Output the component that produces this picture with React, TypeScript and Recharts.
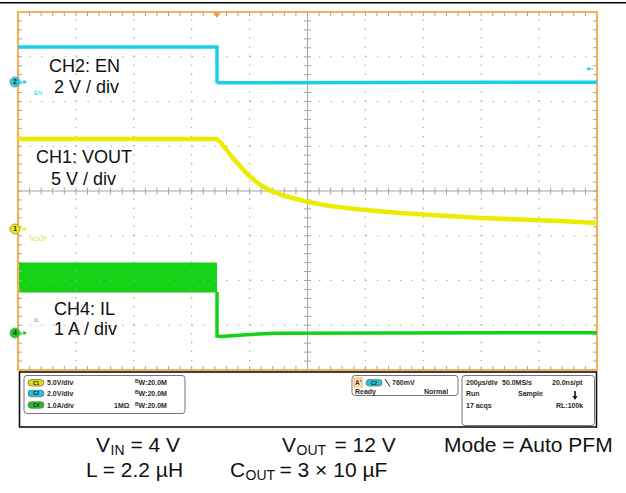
import React from 'react';
import { ComposedChart, Line, Area, XAxis, YAxis, ReferenceLine, ReferenceArea, ReferenceDot } from 'recharts';

// Horizontal axis: time in divisions (200 µs/div), 0..10
// Vertical axis: screen divisions, 0 (bottom) .. 8 (top)

const enTime = [0, 3.437, 3.437, 3.47, 10];
const enLevel = [7.22, 7.22, 6.44, 6.42, 6.43];

const voutTime = [0, 3.437, 3.506, 3.592, 3.696, 3.817, 3.955, 4.162, 4.37, 4.611, 5.009, 5.389, 5.907, 6.598, 7.288, 7.979, 8.67, 9.361, 10];
const voutLevel = [5.16, 5.162, 5.073, 4.939, 4.76, 4.581, 4.38, 4.156, 4.0, 3.888, 3.754, 3.665, 3.587, 3.508, 3.453, 3.397, 3.363, 3.33, 3.285];

const ilBandTime = [0, 3.437];
const ilBandLow = [1.743, 1.743];
const ilBandHigh = [2.391, 2.391];

const ilTime = [3.437, 3.437, 3.5, 3.95, 4.4, 10];
const ilLevel = [1.743, 0.76, 0.75, 0.79, 0.82, 0.834];

// channel ground reference markers (divisions)
const markerLevels = [6.436, 3.151, 0.827];
const markerNumbers = ['2', '1', '4'];
const triggerTime = 3.437;
const triggerLevel = 6.73;

const gridX = [1, 2, 3, 4, 6, 7, 8, 9];
const gridY = [1, 2, 3, 5, 6, 7];
const minorX = Array.from({ length: 49 }, (_, i) => +((i + 1) * 0.2).toFixed(2));
const minorY = Array.from({ length: 39 }, (_, i) => +((i + 1) * 0.2).toFixed(2));

const W = 626;
const H = 493;
const M = { top: 12, right: 29, bottom: 123, left: 18 };
const PX_X = (W - M.left - M.right) / 10;
const PX_Y = (H - M.top - M.bottom) / 8;
const TX = 4 / PX_X;
const TY = 4 / PX_Y;
const CTX = 3.5 / PX_X;
const CTY = 3.5 / PX_Y;

const CYAN = '#1ccfe6';
const YELLOW = '#ecec00';
const GREEN = '#16d216';
const ORANGE = '#f4b35a';
const GRID = '#a4a4a4';
const CENTER = '#aaa59c';
const FONT = "'Liberation Sans', Arial, sans-serif";

const enData = enTime.map((t, i) => ({ t, v: enLevel[i] }));
const voutData = voutTime.map((t, i) => ({ t, v: voutLevel[i] }));
const ilBandData = ilBandTime.map((t, i) => ({ t, band: [ilBandLow[i], ilBandHigh[i]] }));
const ilData = ilTime.map((t, i) => ({ t, v: ilLevel[i] }));
const markerColors = [CYAN, YELLOW, GREEN];

const makeMarker = (color: string, num: string) => (props: any) => {
  const { cx, cy } = props;
  return (
    <g>
      <circle cx={cx - 3} cy={cy} r={5} fill={color} stroke="#8a8a8a" strokeWidth={0.8} />
      <text x={cx - 3} y={cy + 2.3} fontSize={6.5} fontWeight="bold" textAnchor="middle" fill="#222" fontFamily={FONT}>{num}</text>
      <line x1={cx + 2} y1={cy} x2={cx + 6} y2={cy} stroke={color} strokeWidth={1} />
      <path d={`M${cx + 9},${cy} l-3.5,-2.2 v4.4 z`} fill={color} />
    </g>
  );
};

const TriggerShape = (props: any) => {
  const { cx, cy } = props;
  return <path d={`M${cx - 3.5},${cy + 1} L${cx + 3.5},${cy + 1} L${cx},${cy + 6} z`} fill="#f0a030" />;
};

const LevelArrow = (props: any) => {
  const { cx, cy } = props;
  return (
    <g>
      <path d={`M${cx - 11},${cy} l3.5,-2.2 v4.4 z`} fill={CYAN} />
      <line x1={cx - 8} y1={cy} x2={cx - 4} y2={cy} stroke={CYAN} strokeWidth={1} />
    </g>
  );
};

const Pill = ({ x, y, color, label }: { x: number; y: number; color: string; label: string }) => (
  <g>
    <rect x={x} y={y - 3.3} width={16} height={6.6} rx={3.3} fill={color} stroke="#555" strokeWidth={0.6} />
    <text x={x + 8} y={y + 1.8} fontSize={4.8} fontWeight="bold" textAnchor="middle" fill="#222" fontFamily={FONT}>{label}</text>
  </g>
);

const small = { fontSize: 7, fontWeight: 'bold' as const, fill: '#2a2a2a', fontFamily: FONT };

const Bw = ({ x, y }: { x: number; y: number }) => (
  <g>
    <text x={x} y={y - 2} {...small} fontSize={5}>B</text>
    <text x={x + 3.6} y={y} {...small}>W:20.0M</text>
  </g>
);

export default function App() {
  return (
    <div style={{ position: 'absolute', left: 0, top: 0, width: W, height: H, background: '#fff', overflow: 'hidden' }}>
      <div style={{ position: 'absolute', left: 0, top: 0 }}>
        <ComposedChart width={W} height={H} margin={M}>
          <XAxis type="number" dataKey="t" domain={[0, 10]} hide allowDataOverflow />
          <YAxis type="number" domain={[0, 8]} hide width={0} allowDataOverflow />
          {gridX.map((x) => (
            <ReferenceLine key={'gx' + x} x={x} stroke={GRID} strokeWidth={1.2} strokeDasharray={`1.3 ${PX_Y / 5 - 1.3}`} ifOverflow="visible" />
          ))}
          {gridY.map((y) => (
            <ReferenceLine key={'gy' + y} y={y} stroke={GRID} strokeWidth={1.2} strokeDasharray={`1.3 ${PX_X / 5 - 1.3}`} ifOverflow="visible" />
          ))}
          <ReferenceLine x={5} stroke={CENTER} strokeWidth={1} ifOverflow="visible" />
          <ReferenceLine y={4} stroke={CENTER} strokeWidth={1} ifOverflow="visible" />
          {minorX.map((x) => (
            <ReferenceLine key={'ct' + x} segment={[{ x, y: 4 - CTY }, { x, y: 4 + CTY }]} stroke={CENTER} strokeWidth={1} ifOverflow="visible" />
          ))}
          {minorY.map((y) => (
            <ReferenceLine key={'cl' + y} segment={[{ x: 5 - CTX, y }, { x: 5 + CTX, y }]} stroke={CENTER} strokeWidth={1} ifOverflow="visible" />
          ))}
          {minorX.map((x) => (
            <ReferenceLine key={'tt' + x} segment={[{ x, y: 8 }, { x, y: 8 - TY }]} stroke={CENTER} strokeWidth={1} ifOverflow="visible" />
          ))}
          {minorX.map((x) => (
            <ReferenceLine key={'bt' + x} segment={[{ x, y: 0 }, { x, y: TY }]} stroke={CENTER} strokeWidth={1} ifOverflow="visible" />
          ))}
          {minorY.map((y) => (
            <ReferenceLine key={'lt' + y} segment={[{ x: 0, y }, { x: TX, y }]} stroke={CENTER} strokeWidth={1} ifOverflow="visible" />
          ))}
          {minorY.map((y) => (
            <ReferenceLine key={'rt' + y} segment={[{ x: 10, y }, { x: 10 - TX, y }]} stroke={CENTER} strokeWidth={1} ifOverflow="visible" />
          ))}

          <Area data={ilBandData} dataKey="band" type="linear" stroke={GREEN} strokeWidth={1} fill={GREEN} fillOpacity={1} isAnimationActive={false} dot={false} activeDot={false} />
          <Line data={ilData} dataKey="v" type="linear" stroke={GREEN} strokeWidth={3.5} dot={false} activeDot={false} isAnimationActive={false} />
          <Line data={voutData} dataKey="v" type="linear" stroke={YELLOW} strokeWidth={4.5} strokeLinejoin="round" dot={false} activeDot={false} isAnimationActive={false} />
          <Line data={enData} dataKey="v" type="linear" stroke={CYAN} strokeWidth={3.5} dot={false} activeDot={false} isAnimationActive={false} />

          <ReferenceArea x1={0} x2={10} y1={0} y2={8} fill="none" fillOpacity={0} stroke={ORANGE} strokeWidth={2.2} ifOverflow="visible" />
          {markerLevels.map((lv, i) => (
            <ReferenceDot key={'m' + i} x={0} y={lv} r={5} ifOverflow="visible" shape={makeMarker(markerColors[i], markerNumbers[i])} />
          ))}
          <ReferenceDot x={triggerTime} y={8} r={4} ifOverflow="visible" shape={TriggerShape} />
          <ReferenceDot x={10} y={triggerLevel} r={4} ifOverflow="visible" shape={LevelArrow} />
        </ComposedChart>
      </div>

      <svg width={W} height={H} style={{ position: 'absolute', left: 0, top: 0, pointerEvents: 'none' }}>
        <line x1={0} y1={2.8} x2={W} y2={2.8} stroke="#000" strokeWidth={1.4} />

        <g fontFamily={FONT} fontSize={18} fill="#111">
          <text x={49} y={72}>CH2: EN</text>
          <text x={54} y={93}>2 V / div</text>
          <text x={36} y={163}>CH1: VOUT</text>
          <text x={51} y={185}>5 V / div</text>
          <text x={54} y={315}>CH4: IL</text>
          <text x={54} y={335}>1 A / div</text>
        </g>
        <g fontFamily={FONT} fontSize={6}>
          <text x={34} y={95} fill={CYAN}>EN</text>
          <text x={30} y={241} fill="#d8d800">VOUT</text>
          <text x={34} y={322} fill={GREEN}>IL</text>
        </g>

        {/* status panel */}
        <rect x={19.5} y={372} width={577} height={55} fill="#fff" stroke="#111" strokeWidth={1.6} />
        <rect x={24} y={375.5} width={161} height={38} rx={3} fill="none" stroke="#777" strokeWidth={1} />
        <rect x={352} y={375.5} width={106} height={20} rx={3} fill="none" stroke="#777" strokeWidth={1} />
        <rect x={462} y={375.5} width={132.5} height={50} rx={3} fill="none" stroke="#777" strokeWidth={1} />

        <Pill x={28} y={382.8} color="#dede10" label="C1" />
        <Pill x={28} y={393.5} color="#20c4dc" label="C2" />
        <Pill x={28} y={405} color="#22c022" label="C4" />
        <text x={47} y={385.3} {...small}>5.0V/div</text>
        <text x={47} y={396} {...small}>2.0V/div</text>
        <text x={47} y={407.5} {...small}>1.0A/div</text>
        <Bw x={135} y={385.3} />
        <Bw x={135} y={396} />
        <text x={114} y={407.5} {...small}>1MΩ</text>
        <Bw x={135} y={407.5} />

        <rect x={354} y={378} width={8} height={9} fill="#fde6c4" stroke="#f0a040" strokeWidth={0.8} />
        <text x={355} y={385.3} {...small} fontSize={6.5}>A'</text>
        <Pill x={366} y={382.8} color="#20c4dc" label="C2" />
        <line x1={385} y1={379} x2={390} y2={386.5} stroke="#222" strokeWidth={1} />
        <text x={392} y={385.3} {...small}>760mV</text>
        <text x={355} y={394} {...small}>Ready</text>
        <text x={424} y={394} {...small}>Normal</text>

        <text x={466} y={385.3} {...small}>200µs/div</text>
        <text x={502} y={385.3} {...small}>50.0MS/s</text>
        <text x={552} y={385.3} {...small}>20.0ns/pt</text>
        <text x={466} y={396} {...small}>Run</text>
        <text x={518} y={396} {...small}>Sample</text>
        <line x1={575} y1={391} x2={575} y2={397} stroke="#111" strokeWidth={1.6} />
        <path d="M572.5,396 L577.5,396 L575,400 z" fill="#111" />
        <text x={466} y={407.5} {...small}>17 acqs</text>
        <text x={556} y={407.5} {...small}>RL:100k</text>

        <g fontFamily={FONT} fontSize={21} fill="#111">
          <text x={96} y={451.5}>V</text>
          <text x={110.5} y={454.5} fontSize={14}>IN</text>
          <text x={130.5} y={451.5}>= 4 V</text>
          <text x={282} y={451.5}>V</text>
          <text x={296.5} y={454.5} fontSize={14}>OUT</text>
          <text x={334.5} y={451.5}>= 12 V</text>
          <text x={444} y={451.5}>Mode = Auto PFM</text>
          <text x={86} y={477}>L = 2.2 µH</text>
          <text x={230} y={477}>C</text>
          <text x={245.5} y={480} fontSize={14}>OUT</text>
          <text x={279.5} y={477}>= 3 × 10 µF</text>
        </g>
      </svg>
    </div>
  );
}
